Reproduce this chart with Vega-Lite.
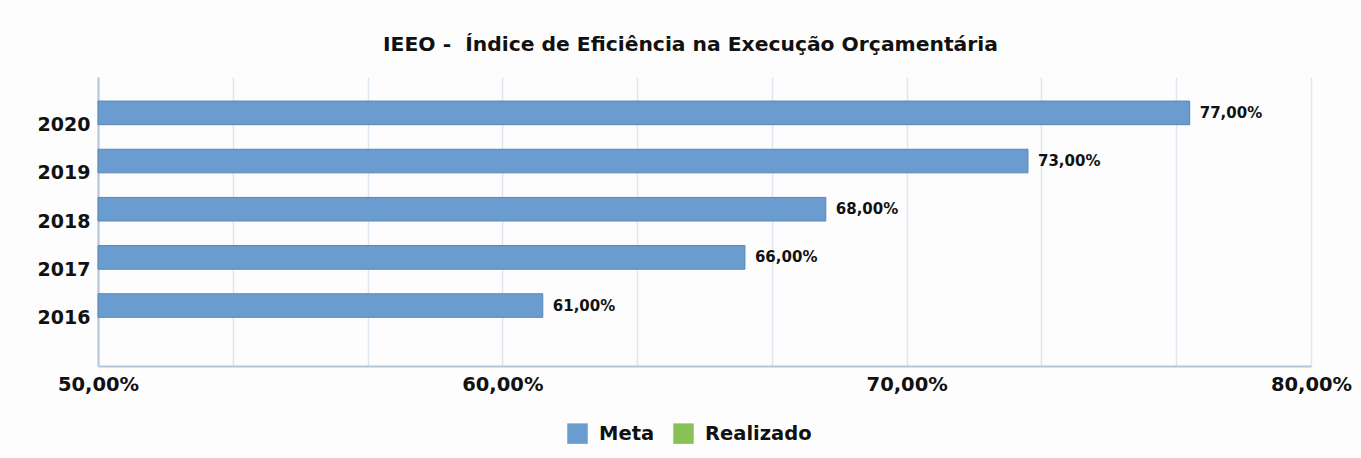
{
  "$schema": "https://vega.github.io/schema/vega-lite/v6.json",
  "width": 1213,
  "height": 289,
  "autosize": {"type": "none"},
  "padding": {"left": 98, "top": 77, "right": 50, "bottom": 92},
  "background": "#fdfdfd",
  "config": {
    "locale": {"number": {"decimal": ",", "thousands": ".", "grouping": [3], "currency": ["R$", ""]}},
    "view": {"stroke": null},
    "font": "DejaVu Sans"
  },
  "title": {
    "text": "IEEO - \u00a0Índice de Eficiência na Execução Orçamentária",
    "font": "DejaVu Sans",
    "fontSize": 20.3,
    "fontWeight": "bold",
    "color": "#111111",
    "anchor": "middle",
    "offset": 22,
    "dx": -14
  },
  "data": {
    "values": [
      {"ano": "2020", "serie": "Meta", "valor": 0.77},
      {"ano": "2019", "serie": "Meta", "valor": 0.73},
      {"ano": "2018", "serie": "Meta", "valor": 0.68},
      {"ano": "2017", "serie": "Meta", "valor": 0.66},
      {"ano": "2016", "serie": "Meta", "valor": 0.61}
    ]
  },
  "encoding": {
    "y": {
      "field": "ano",
      "type": "nominal",
      "sort": "descending",
      "scale": {"paddingInner": 0, "paddingOuter": 0.5},
      "axis": {
        "title": null,
        "ticks": false,
        "labelFontSize": 19,
        "labelFontWeight": "bold",
        "labelColor": "#111111",
        "labelPadding": 8,
        "domainColor": "#b4c6d8",
        "domainWidth": 2,
        "grid": false
      }
    },
    "yOffset": {
      "field": "serie",
      "type": "nominal",
      "scale": {"domain": ["Meta", "Realizado"], "paddingInner": 0.04}
    }
  },
  "layer": [
    {
      "mark": {"type": "bar", "stroke": "#5a86b4", "strokeWidth": 1},
      "encoding": {
        "x": {
          "field": "valor",
          "type": "quantitative",
          "scale": {"domain": [0.5, 0.8], "zero": false, "nice": false},
          "axis": {
            "title": null,
            "values": [0.5, 0.533333, 0.566667, 0.6, 0.633333, 0.666667, 0.7, 0.733333, 0.766667, 0.8],
            "format": ".2%",
            "labelExpr": "abs(datum.value*10 - round(datum.value*10)) < 0.001 ? datum.label : ''",
            "ticks": false,
            "labelFontSize": 19.5,
            "labelFontWeight": "bold",
            "labelColor": "#111111",
            "labelPadding": 9,
            "labelFlush": false,
            "domainColor": "#b4c6d8",
            "domainWidth": 2,
            "grid": true,
            "gridColor": "#dde7f2",
            "gridWidth": 1.5
          }
        },
        "x2": {"datum": 0.5},
        "color": {
          "field": "serie",
          "type": "nominal",
          "scale": {"domain": ["Meta", "Realizado"], "range": ["#6a9ccf", "#88c257"]},
          "legend": {
            "title": null,
            "orient": "none",
            "legendX": 469,
            "legendY": 346,
            "direction": "horizontal",
            "symbolType": "square",
            "symbolSize": 420,
            "symbolStrokeWidth": 0,
            "labelFontSize": 19.5,
            "labelFontWeight": "bold",
            "labelColor": "#111111",
            "labelOffset": 11,
            "columnPadding": 18
          }
        }
      }
    },
    {
      "mark": {"type": "text", "align": "left", "baseline": "middle", "dx": 10, "fontSize": 15, "fontWeight": "bold", "color": "#111111"},
      "encoding": {
        "x": {"field": "valor", "type": "quantitative"},
        "text": {"field": "valor", "type": "quantitative", "format": ".2%"}
      }
    }
  ]
}
